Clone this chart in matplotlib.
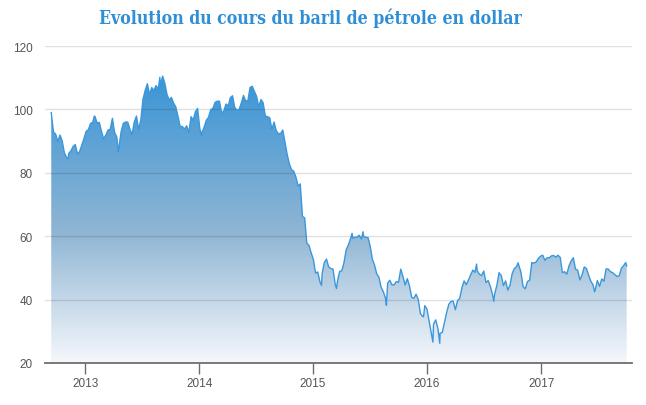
import matplotlib
matplotlib.use('Agg')
import matplotlib.pyplot as plt
import matplotlib.dates as mdates
from matplotlib.colors import LinearSegmentedColormap
import numpy as np
import pandas as pd

# cours hebdomadaire du WTI (vendredi), en dollars
wti_2012 = [99.0, 92.9, 92.2, 89.9, 91.9, 90.1, 86.3, 84.9, 86.1, 86.9, 88.3, 88.9,
            85.9, 86.7, 88.7, 90.8]
wti_2013 = [93.1, 93.6, 95.6, 95.9, 97.8, 95.7, 95.9, 93.1, 90.7, 91.9, 93.5, 93.7,
            97.2, 92.7, 91.3, 88.0, 93.0, 95.6, 96.0, 96.0, 93.8, 92.0, 96.0, 97.9,
            93.7, 96.6, 103.2, 106.0, 108.1, 104.7, 106.9, 106.0, 107.5, 106.4, 107.7,
            110.5, 108.2, 104.7, 103.0, 103.8, 102.0, 100.8, 97.9, 94.6, 94.6, 93.8,
            94.8, 92.7, 97.7, 96.6, 99.3, 100.3]
wti_2014 = [94.0, 92.7, 94.4, 96.6, 97.5, 99.9, 100.3, 102.2, 102.6, 102.6, 98.9, 99.5,
            101.7, 101.1, 103.7, 104.3, 100.6, 99.8, 100.0, 102.0, 104.4, 102.7, 102.7,
            106.9, 107.3, 105.7, 104.1, 100.8, 103.1, 102.1, 97.9, 97.7, 97.4, 93.7,
            96.0, 93.3, 92.3, 92.4, 93.5, 89.7, 85.8, 82.8, 81.0, 80.5, 78.7, 75.8,
            76.5, 66.2, 65.8, 57.8, 57.1, 54.7]
wti_2015 = [52.7, 48.4, 48.7, 45.6, 48.2, 51.7, 52.8, 50.3, 49.8, 49.6, 44.8, 45.7,
            48.9, 49.1, 51.6, 55.7, 57.2, 59.2, 59.4, 59.7, 59.7, 60.3, 59.1, 60.0,
            59.6, 59.6, 56.9, 52.7, 50.9, 48.1, 47.1, 43.9, 42.5, 40.5, 45.2, 46.1,
            44.6, 44.7, 45.7, 45.5, 49.6, 47.3, 44.6, 46.6, 44.3, 40.7, 40.4, 41.7,
            40.0, 35.6, 34.7, 38.1]
wti_2016 = [37.0, 33.2, 29.4, 32.2, 33.6, 30.9, 29.4, 29.6, 32.8, 35.9, 38.5, 39.4,
            39.5, 36.8, 39.7, 40.4, 43.7, 45.9, 44.7, 46.2, 47.8, 49.3, 48.6, 49.1,
            48.0, 47.6, 49.0, 45.4, 46.0, 44.2, 41.6, 41.8, 44.5, 48.5, 47.6, 44.4,
            45.9, 43.0, 44.5, 48.2, 49.8, 50.4, 50.9, 48.7, 44.1, 43.4, 45.7, 46.1,
            51.7, 51.5, 51.9, 53.0, 53.7]
wti_2017 = [54.0, 52.4, 53.2, 53.2, 53.8, 53.9, 53.4, 54.0, 53.3, 48.5, 48.8, 48.0,
            50.6, 52.2, 53.2, 49.6, 49.3, 46.2, 47.8, 50.3, 49.8, 47.7, 45.8, 44.7,
            43.0, 46.0, 44.2, 46.5, 45.8, 49.7, 49.6, 48.8, 48.5, 47.9, 47.3, 47.5,
            49.9, 50.7, 51.7]
year_starts = ['2012-09-14', '2013-01-04', '2014-01-03', '2015-01-02', '2016-01-01', '2017-01-06']

# points journaliers extremes
extra_dates = ['2012-11-07', '2013-01-30', '2013-04-17', '2013-08-28', '2014-01-09',
               '2015-01-28', '2015-03-17', '2015-05-06', '2015-06-10', '2015-08-24',
               '2015-12-21', '2016-01-20', '2016-02-11', '2016-06-08', '2016-08-02',
               '2016-10-19', '2017-06-21', '2017-10-02']
extra_vals = [84.4, 97.9, 86.7, 110.1, 91.7, 44.5, 43.5, 60.9, 61.4, 38.2,
              34.6, 26.6, 26.2, 51.2, 39.5, 51.6, 42.5, 50.6]

years = ['2013', '2014', '2015', '2016', '2017']

parts = []
for start, vals in zip(year_starts, [wti_2012, wti_2013, wti_2014, wti_2015, wti_2016, wti_2017]):
    idx = pd.date_range(start, periods=len(vals), freq='7D')
    parts.append(pd.Series(vals, index=idx))
parts.append(pd.Series(extra_vals, index=pd.to_datetime(extra_dates)))
s = pd.concat(parts).sort_index()
s = s[~s.index.duplicated()]

x = mdates.date2num(s.index.to_pydatetime())
y = s.values

fig = plt.figure(figsize=(6.46, 4.06), dpi=100)
ax = fig.add_axes([45 / 646, 42 / 406, 587 / 646, 317 / 406])

x0 = mdates.date2num(pd.Timestamp('2012-08-25'))
x1 = mdates.date2num(pd.Timestamp('2017-10-19'))
ax.set_xlim(x0, x1)
ax.set_ylim(20, 120)

# degrade sous la courbe
cmap = LinearSegmentedColormap.from_list('oil', [
    (0.0, (0.96, 0.97, 0.985)),
    (0.45, (0.56, 0.71, 0.83)),
    (1.0, (0.22, 0.58, 0.84))])
poly = ax.fill_between(x, y, 20, color='none', lw=0)
grad = np.linspace(0, 1, 256).reshape(-1, 1)
img = ax.imshow(grad, cmap=cmap, origin='lower', aspect='auto',
                extent=[x[0], x[-1], 20, 112], zorder=1)
path = poly.get_paths()[0]
img.set_clip_path(path, transform=ax.transData)

ax.plot(x, y, color='#3a97dc', lw=1.0, zorder=3)

# grille
for v in [40, 60, 80, 100, 120]:
    ax.axhline(v, color=(0, 0, 0, 0.12), lw=1, zorder=2)

ax.set_yticks([20, 40, 60, 80, 100, 120])
ax.set_xticks([mdates.date2num(pd.Timestamp(yr + '-01-01')) for yr in years])
ax.set_xticklabels(years)
for sp in ['top', 'right', 'left']:
    ax.spines[sp].set_visible(False)
ax.spines['bottom'].set_color('#6e6e6e')
ax.spines['bottom'].set_linewidth(1.3)
ax.tick_params(axis='x', length=8, width=1, color='#6e6e6e', pad=2,
               labelsize=8.5, labelcolor='#555555')
ax.tick_params(axis='y', length=0, pad=9, labelsize=8.5, labelcolor='#555555')
for lab in ax.get_xticklabels() + ax.get_yticklabels():
    lab.set_family('Liberation Sans')

fig.text(310 / 646, 1 - 18 / 406, 'Evolution du cours du baril de pétrole en dollar',
         ha='center', va='center', fontsize=12.7, fontweight='bold',
         color='#2f8fd6', family='DejaVu Serif', fontstretch='condensed')

fig.savefig('out.png', dpi=100)
